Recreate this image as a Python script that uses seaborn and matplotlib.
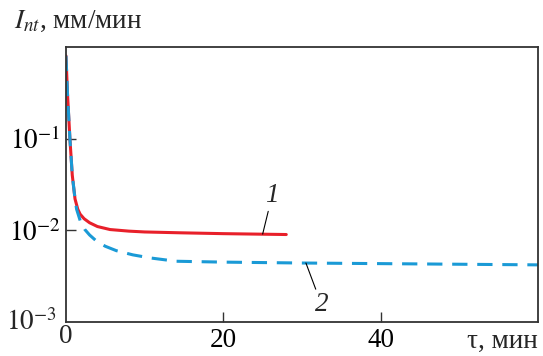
import matplotlib
matplotlib.use("Agg")
import matplotlib.pyplot as plt
import numpy as np
import pandas as pd
import seaborn as sns

# curve 1 (solid red)
t1 = [0.0, 0.2, 0.5, 0.8, 1.15, 1.5, 1.8, 2.3, 3.0, 4.0, 5.6, 8.0, 10.0, 14.5, 20.0, 28.0]
i1 = [0.8, 0.3, 0.1, 0.04, 0.022, 0.017, 0.015, 0.0134, 0.0121, 0.0110, 0.0102, 0.0098, 0.0096, 0.0094, 0.0092, 0.0090]
# curve 2 (dashed blue)
t2 = [0.0, 0.2, 0.5, 0.8, 1.15, 1.35, 1.8, 2.4, 3.0, 3.9, 5.0, 6.4, 8.5, 10.7, 14.0, 20.0, 30.0, 45.0, 60.0]
i2 = [0.8, 0.3, 0.1, 0.04, 0.022, 0.017, 0.0128, 0.0102, 0.0089, 0.0076, 0.0067, 0.0060, 0.0054, 0.0050, 0.0046, 0.0045, 0.0044, 0.0043, 0.0042]

x_ticks = [0, 20, 40]
y_ticks = [1e-3, 1e-2, 1e-1]
y_tick_labels = [r"$10^{-3}$", r"$10^{-2}$", r"$10^{-1}$"]

sns.set_theme(style="ticks")
plt.rcParams["font.family"] = ["Liberation Serif", "DejaVu Serif"]
plt.rcParams["mathtext.fontset"] = "stix"

df1 = pd.DataFrame({"t": t1, "I": i1})
df2 = pd.DataFrame({"t": t2, "I": i2})

fig = plt.figure(figsize=(5.43, 3.56), dpi=100)
ax = fig.add_axes([0.1215, 0.0955, 0.8693, 0.7725])

sns.lineplot(data=df1, x="t", y="I", ax=ax, color="#e8202a", lw=2.2)
sns.lineplot(data=df2, x="t", y="I", ax=ax, color="#1a9ad6", lw=2.2,
             linestyle=(0, (5, 3.2)))

ax.set_yscale("log")
ax.set_xlim(0, 60)
ax.set_ylim(1e-3, 1)
ax.set_xticks(x_ticks[1:])
ax.set_yticks(y_ticks[1:])
ax.set_yticklabels(y_tick_labels[1:])
ax.minorticks_off()
ax.tick_params(direction="in", length=7, width=1, colors="#333333",
               labelcolor="black", labelsize=19.5, pad=4)
for s in ax.spines.values():
    s.set_color("#333333")
    s.set_linewidth(1.3)
ax.set_xlabel("")
ax.set_ylabel("")

# tick labels for the corners
fig.text(0.1215, 0.055, "0", ha="center", va="center", fontsize=19.5)
fig.text(0.105, 0.095, r"$10^{-3}$", ha="right", va="center", fontsize=19.5)

fig.text(0.025, 0.94, r"$I_{nt}$, мм/мин", fontsize=19.5, va="center")
fig.text(0.99, 0.04, "τ, мин", fontsize=19.5, ha="right", va="center")

ax.annotate("1", xy=(25, 0.0091), xytext=(26.2, 0.0175), fontsize=19.5,
            style="italic", ha="center", va="bottom",
            arrowprops=dict(arrowstyle="-", color="black", lw=0.8,
                            shrinkA=0, shrinkB=0))
ax.annotate("2", xy=(30.5, 0.0044), xytext=(32.5, 0.0021), fontsize=19.5,
            style="italic", ha="center", va="top",
            arrowprops=dict(arrowstyle="-", color="black", lw=0.8,
                            shrinkA=0, shrinkB=0))

fig.savefig("out.png", dpi=100)
